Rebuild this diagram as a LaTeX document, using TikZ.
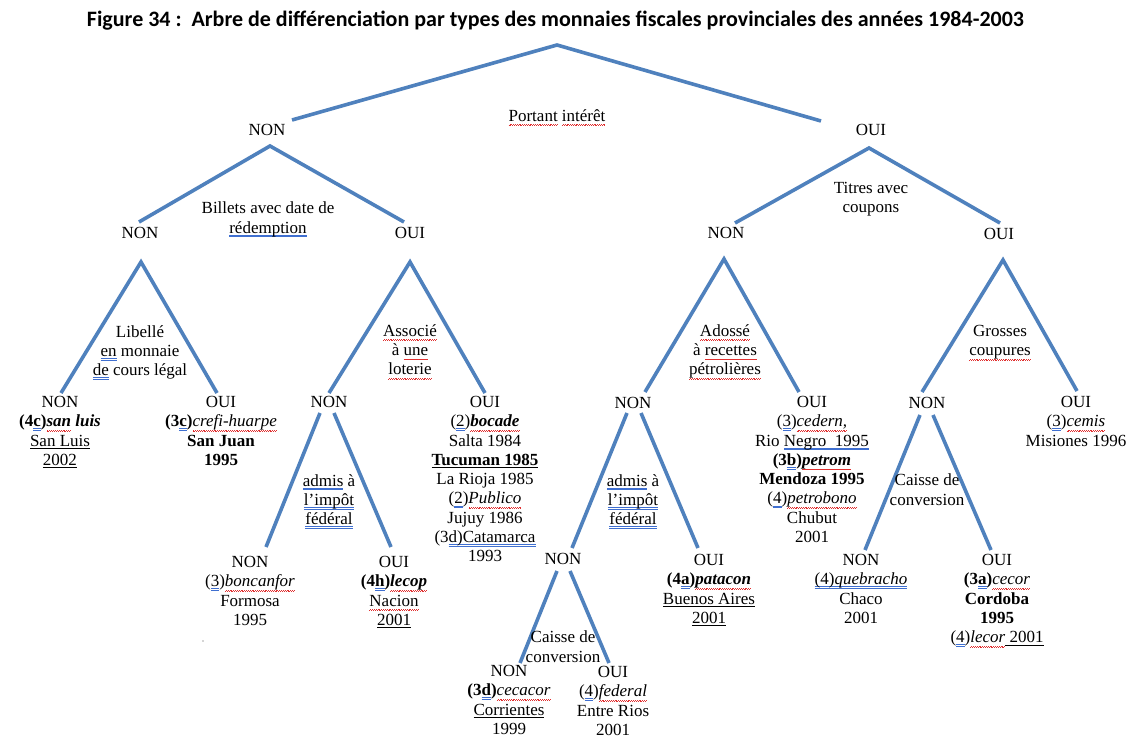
\documentclass[tikz,border=0pt]{standalone}
\usepackage{fontspec}
\setmainfont{Liberation Serif}
\newfontfamily\titlefont{Carlito}
\definecolor{lineblue}{HTML}{4F81BD}
\definecolor{gblue}{HTML}{3F6FD0}
\definecolor{sred}{HTML}{E03030}
\newsavebox\myulbox
\newcommand\gdbl[1]{\leavevmode\sbox\myulbox{#1}\rlap{\textcolor{gblue}{\rule[-2.2pt]{\wd\myulbox}{0.6pt}}}\rlap{\textcolor{gblue}{\rule[-3.8pt]{\wd\myulbox}{0.6pt}}}\usebox\myulbox}
\newcommand\blkul[1]{\leavevmode\sbox\myulbox{#1}\rlap{\rule[-2.6pt]{\wd\myulbox}{0.7pt}}\usebox\myulbox}
\newcommand\spwave[1]{\leavevmode\sbox\myulbox{#1}\rlap{\color{sred}\hbox to \wd\myulbox{\xleaders\hbox{\rule[-4.4pt]{0.9pt}{0.5pt}\rule[-3.7pt]{0.9pt}{0.5pt}}\hfill}}\usebox\myulbox}
\tikzset{
  lbl/.style={inner sep=0pt, align=center, anchor=north, font=\fontsize{17}{19.3}\selectfont},
  branch/.style={draw=lineblue, line width=3.6pt},
}
\begin{document}
\begin{tikzpicture}[x=1pt,y=-1pt]
\fill[white] (0,0) rectangle (1133,738);
\useasboundingbox (0,0) rectangle (1133,738);

% title
\node[inner sep=0pt, font=\titlefont\bfseries\fontsize{22}{26}\selectfont] (title) at (555.5,21)
  {Figure 34 :\ \ Arbre de différenciation par types des monnaies fiscales provinciales des années 1984-2003};

% ---------- coordinates of branches ----------
\coordinate (a1) at (557,45);  \coordinate (e1L) at (292,120); \coordinate (e1R) at (821,121);
\coordinate (a2L) at (270,146); \coordinate (e2LL) at (139,222); \coordinate (e2LR) at (404,222);
\coordinate (a2R) at (869,148); \coordinate (e2RL) at (735,223); \coordinate (e2RR) at (1000,223);
\coordinate (a3a) at (141,262); \coordinate (e3aL) at (61,393);  \coordinate (e3aR) at (217,393);
\coordinate (a3b) at (410,262); \coordinate (e3bL) at (329,393); \coordinate (e3bR) at (485,393);
\coordinate (a3c) at (724,259); \coordinate (e3cL) at (645,392); \coordinate (e3cR) at (799,392);
\coordinate (a3d) at (1003,260); \coordinate (e3dL) at (922,392); \coordinate (e3dR) at (1077,391);
\coordinate (s4aL) at (320,413); \coordinate (t4aL) at (266,547);
\coordinate (s4aR) at (334,413); \coordinate (t4aR) at (391,547);
\coordinate (s4bL) at (627,413); \coordinate (t4bL) at (572,548);
\coordinate (s4bR) at (641,413); \coordinate (t4bR) at (698,548);
\coordinate (s4cL) at (920,415); \coordinate (t4cL) at (865,550);
\coordinate (s4cR) at (933,415); \coordinate (t4cR) at (991,550);
\coordinate (s5L) at (557,571); \coordinate (t5L) at (520,663);
\coordinate (s5R) at (570,571); \coordinate (t5R) at (609,663);

\draw[branch] (e1L) -- (a1) -- (e1R);
\draw[branch] (e2LL) -- (a2L) -- (e2LR);
\draw[branch] (e2RL) -- (a2R) -- (e2RR);
\draw[branch] (e3aL) -- (a3a) -- (e3aR);
\draw[branch] (e3bL) -- (a3b) -- (e3bR);
\draw[branch] (e3cL) -- (a3c) -- (e3cR);
\draw[branch] (e3dL) -- (a3d) -- (e3dR);
\draw[branch] (s4aL) -- (t4aL);  \draw[branch] (s4aR) -- (t4aR);
\draw[branch] (s4bL) -- (t4bL);  \draw[branch] (s4bR) -- (t4bR);
\draw[branch] (s4cL) -- (t4cL);  \draw[branch] (s4cR) -- (t4cR);
\draw[branch] (s5L) -- (t5L);    \draw[branch] (s5R) -- (t5R);

% ---------- level 1 ----------
\node[lbl] (q1) at (557,109) {\spwave{Portant} \spwave{intérêt}};
\node[lbl] (n1) at (267,124) {NON};
\node[lbl] (o1) at (871,124) {OUI};

% ---------- level 2 ----------
\node[lbl] (q2L) at (268,202) {Billets avec date de\\\gdbl{rédemption}};
\node[lbl] (n2L) at (140,227) {NON};
\node[lbl] (o2L) at (410,227) {OUI};
\node[lbl] (q2R) at (871,182) {Titres avec\\coupons};
\node[lbl] (n2R) at (726,227) {NON};
\node[lbl] (o2R) at (999,228) {OUI};

% ---------- level 3 ----------
\node[lbl] (q3a) at (140,325) {Libellé\\\gdbl{en} monnaie\\\gdbl{de} cours légal};
\node[lbl] (leafA) at (60,396) {NON\\\textbf{(4\gdbl{c})}\textbf{\textit{\spwave{san}}}\textbf{\textit{ luis}}\\\blkul{San Luis}\\\blkul{2002}};
\node[lbl] (leafB) at (221,396) {OUI\\\textbf{(3\gdbl{c})}\textit{\spwave{crefi-huarpe}}\\\textbf{San Juan}\\\textbf{1995}};

\node[lbl] (q3b) at (410,324) {\spwave{Associé}\\à \spwave{une}\\\spwave{loterie}};
\node[lbl] (n3b) at (329,396) {NON};
\node[lbl] (leafC) at (485,396) {OUI\\(\gdbl{2})\textbf{\textit{\spwave{bocade}}}\\Salta 1984\\\textbf{\blkul{Tucuman 1985}}\\La Rioja 1985\\(\gdbl{2})\textit{\spwave{Publico}}\\Jujuy 1986\\(3\gdbl{d)Catamarca}\\1993};

\node[lbl] (q4a) at (329,474) {\gdbl{admis} à\\\gdbl{l’impôt}\\\gdbl{fédéral}};
\node[lbl] (leafD) at (250,556) {NON\\(\gdbl{3})\textit{\spwave{boncanfor}}\\Formosa\\1995};
\node[lbl] (leafE) at (394,556) {OUI\\\textbf{(4\gdbl{h})}\textbf{\textit{\spwave{lecop}}}\\\spwave{Nacion}\\\blkul{2001}};

\node[lbl] (q3c) at (725,324) {\spwave{Adossé}\\à \spwave{recettes}\\\spwave{pétrolières}};
\node[lbl] (n3c) at (633,397) {NON};
\node[lbl] (leafF) at (812,396) {OUI\\(\gdbl{3})\textit{\spwave{cedern,}}\\Rio \gdbl{Negro\ \ 1995}\\\textbf{(3\gdbl{b})}\textbf{\textit{\spwave{petrom}}}\\\textbf{Mendoza 1995}\\(\gdbl{4})\textit{\spwave{petrobono}}\\Chubut\\2001};

\node[lbl] (q4b) at (633,474) {\gdbl{admis} à\\\gdbl{l’impôt}\\\gdbl{fédéral}};
\node[lbl] (n4b) at (563,553) {NON};
\node[lbl] (leafG) at (709,554) {OUI\\\textbf{(4\gdbl{a})}\textbf{\textit{\spwave{patacon}}}\\\blkul{Buenos Aires}\\\blkul{2001}};

\node[lbl] (q5) at (563,631) {Caisse de\\conversion};
\node[lbl] (leafH) at (509,665) {NON\\\textbf{(3\gdbl{d})}\textit{\spwave{cecacor}}\\\blkul{Corrientes}\\1999};
\node[lbl] (leafI) at (613,666) {OUI\\(\gdbl{4})\textit{\spwave{federal}}\\Entre Rios\\2001};

\node[lbl] (q3d) at (1000,325) {Grosses\\\spwave{coupures}};
\node[lbl] (n3d) at (927,397) {NON};
\node[lbl] (leafJ) at (1076,396) {OUI\\(\gdbl{3})\textit{\spwave{cemis}}\\Misiones 1996};

\node[lbl] (q4c) at (927,474) {Caisse de\\conversion};
\node[lbl] (leafK) at (861,554) {NON\\\gdbl{(4)\textit{quebracho}}\\Chaco\\2001};
\node[lbl] (leafL) at (997,554) {OUI\\\textbf{(3\gdbl{a})}\textit{\spwave{cecor}}\\\textbf{Cordoba}\\\textbf{1995}\\(\gdbl{4})\textit{\spwave{lecor}}\blkul{ 2001}};

% stray dot
\fill[black!70] (203,641) circle (0.7);
\end{tikzpicture}
\end{document}
